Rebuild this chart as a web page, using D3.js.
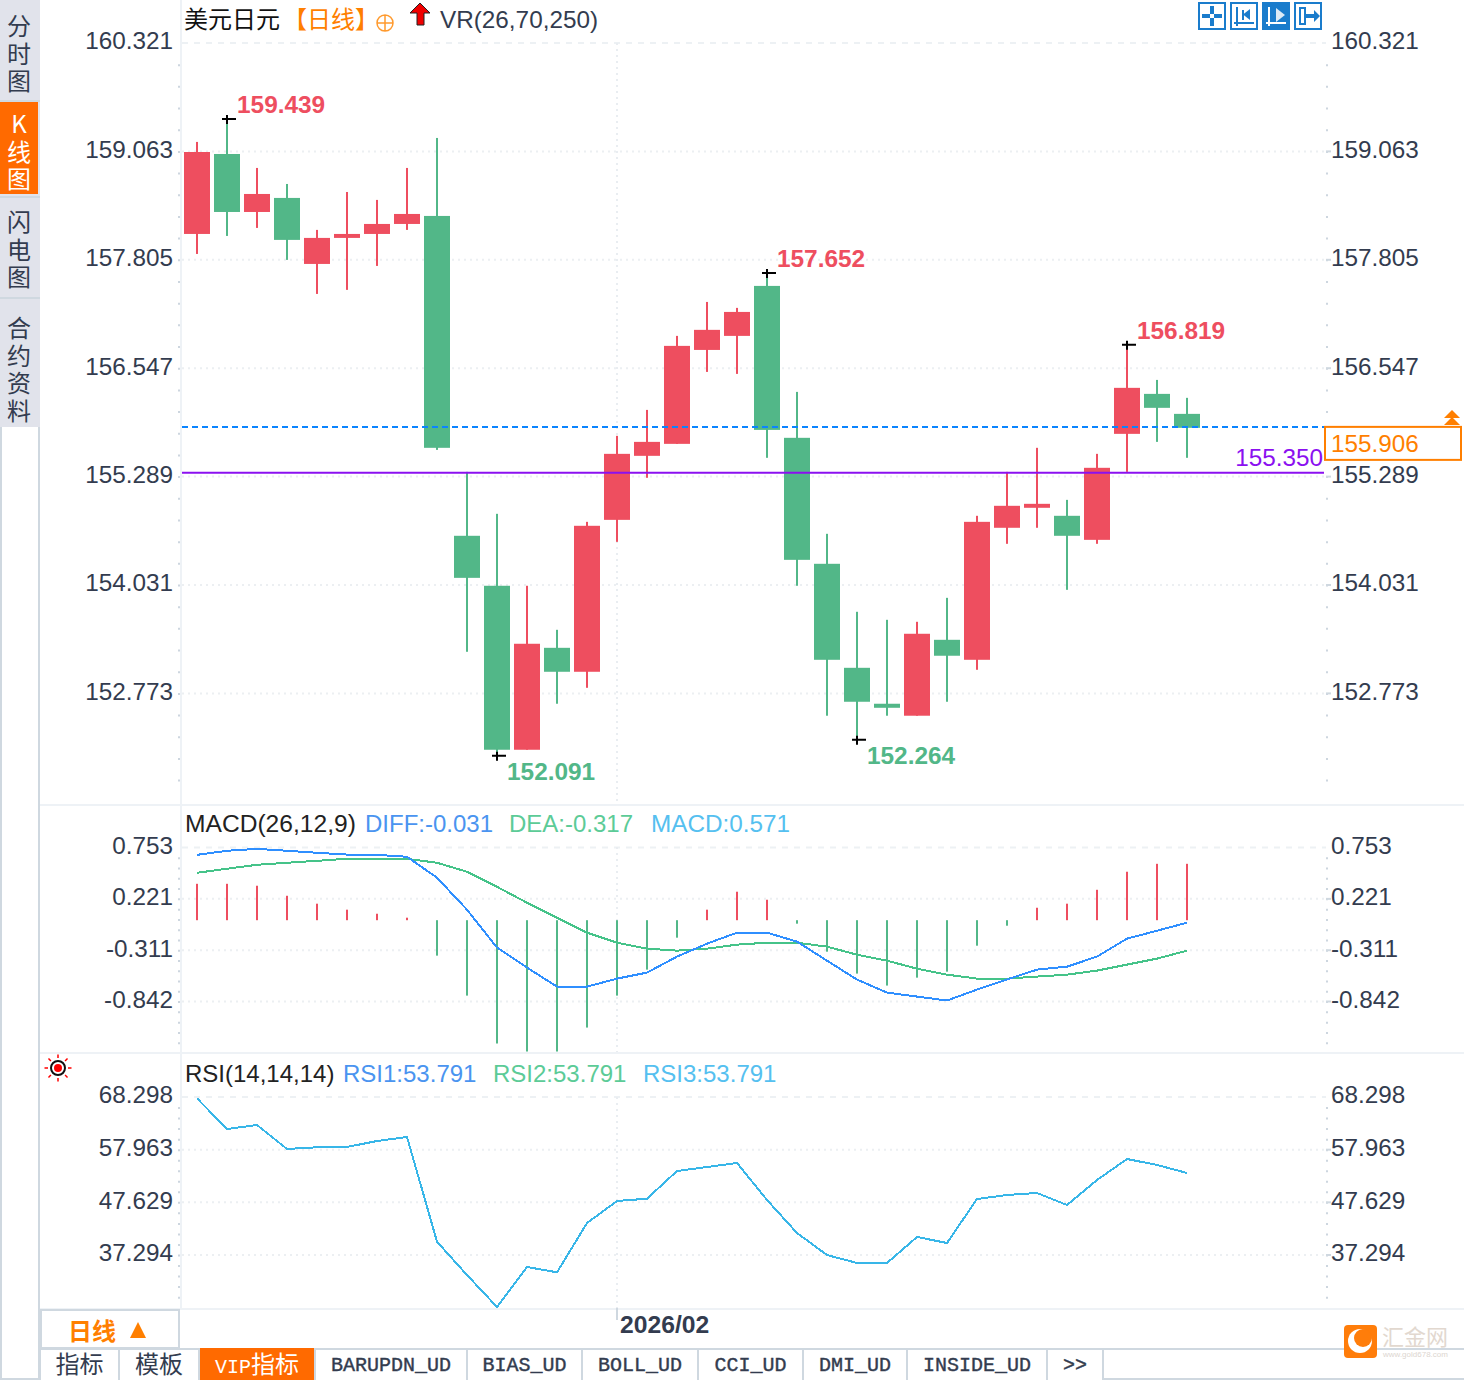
<!DOCTYPE html>
<html>
<head>
<meta charset="utf-8">
<script src="https://cdn.jsdelivr.net/npm/d3@7"></script>
<style>
  html, body { margin: 0; padding: 0; background: #fff; }
  svg { display: block; }
  text { font-family: 'Liberation Sans', Arial, sans-serif; }
  .cjk { font-family: 'Noto Sans CJK SC', sans-serif; }
  .mono { font-family: 'Liberation Mono', monospace; }
  .upright { writing-mode: vertical-rl; text-orientation: upright; letter-spacing: 3.5px; }
</style>
</head>
<body>
<svg></svg>
<script>
'use strict'

// daily candles
const opens = [158.105, 159.033, 158.36, 158.523, 157.757, 158.059, 158.105, 158.221, 158.314, 154.602, 154.022, 152.119, 153.302, 153.024, 154.787, 155.53, 155.669, 156.759, 156.922, 157.502, 155.739, 154.277, 153.07, 152.653, 152.514, 153.395, 153.163, 154.695, 154.927, 154.834, 154.555, 155.785, 156.249, 156.017]
const closes = [159.056, 158.36, 158.569, 158.036, 158.059, 158.105, 158.221, 158.337, 155.623, 154.114, 152.119, 153.349, 153.024, 154.718, 155.553, 155.692, 156.806, 156.992, 157.2, 155.831, 154.323, 153.163, 152.676, 152.606, 153.465, 153.21, 154.764, 154.95, 154.973, 154.602, 155.391, 156.319, 156.087, 155.855]
const highs = [159.173, 159.439, 158.871, 158.685, 158.152, 158.592, 158.5, 158.871, 159.219, 155.344, 154.857, 154.022, 153.511, 154.764, 155.762, 156.063, 156.922, 157.316, 157.247, 157.652, 156.272, 154.625, 153.72, 153.627, 153.604, 153.882, 154.834, 155.344, 155.623, 155.019, 155.553, 156.819, 156.411, 156.203]
const lows = [157.873, 158.082, 158.175, 157.804, 157.409, 157.456, 157.734, 158.152, 155.599, 153.256, 152.049, 152.119, 152.653, 152.838, 154.532, 155.275, 155.669, 156.504, 156.481, 155.507, 154.022, 152.514, 152.235, 152.514, 152.514, 152.676, 153.047, 154.509, 154.695, 153.975, 154.509, 155.344, 155.692, 155.507]

const diff = [0.677, 0.719, 0.739, 0.719, 0.698, 0.68, 0.677, 0.657, 0.44, 0.109, -0.284, -0.491, -0.688, -0.688, -0.605, -0.543, -0.377, -0.243, -0.129, -0.129, -0.222, -0.419, -0.615, -0.75, -0.791, -0.832, -0.719, -0.615, -0.512, -0.481, -0.377, -0.191, -0.109, -0.026]
const dea = [0.491, 0.533, 0.574, 0.595, 0.615, 0.636, 0.636, 0.636, 0.595, 0.502, 0.346, 0.181, 0.026, -0.129, -0.233, -0.295, -0.315, -0.295, -0.253, -0.233, -0.233, -0.274, -0.357, -0.419, -0.502, -0.564, -0.605, -0.605, -0.584, -0.564, -0.522, -0.46, -0.398, -0.315]
const macdBars = [0.377, 0.377, 0.357, 0.253, 0.171, 0.109, 0.067, 0.026, -0.367, -0.781, -1.277, -1.36, -1.36, -1.112, -0.781, -0.512, -0.181, 0.109, 0.295, 0.212, -0.036, -0.326, -0.553, -0.677, -0.595, -0.533, -0.264, -0.057, 0.129, 0.171, 0.315, 0.502, 0.584, 0.584]
const rsi = [68.04, 62.02, 62.8, 58.1, 58.43, 58.49, 59.66, 60.45, 39.91, 33.37, 27.09, 34.94, 33.9, 43.57, 47.89, 48.34, 53.78, 54.56, 55.35, 48.09, 41.61, 37.29, 35.73, 35.73, 40.83, 39.65, 48.28, 49.07, 49.46, 47.11, 52.01, 56.13, 54.96, 53.39]

const priceTicks = [160.321, 159.063, 157.805, 156.547, 155.289, 154.031, 152.773]
const macdTicks = [0.753, 0.221, -0.311, -0.842]
const rsiTicks = [68.298, 57.963, 47.629, 37.294]

const markIndex = [1, 10, 19, 22, 31]
const markLabels = ['159.439', '152.091', '157.652', '152.264', '156.819']

const lastLine = 155.866
const lastLabel = '155.906'
const levelLine = 155.335
const levelLabel = '155.350'

const monthIndex = 14
const monthLabel = '2026/02'

const sideTabs = ['分时图', 'K线图', '闪电图', '合约资料']
const bottomTabs = ['指标', '模板', 'VIP指标', 'BARUPDN_UD', 'BIAS_UD', 'BOLL_UD', 'CCI_UD', 'DMI_UD', 'INSIDE_UD', '>>']
const tabEdges = [40, 119, 199, 315, 467, 582, 698, 803, 907, 1047, 1103]

const red = '#ee4e5f'
const green = '#52b788'
const ink = '#333c4f'
const faint = '#eef2f6'
const edge = '#cfd8e0'
const orange = '#ff7f00'

const svg = d3.select('svg').attr('width', 1464).attr('height', 1380)

const days = d3.range(opens.length)
const x = d3.scaleBand().domain(days).range([182, 1202]).paddingInner(0.1333).paddingOuter(0.0667)
const cx = i => x(i) + x.bandwidth() / 2

const priceY = d3.scaleLinear().domain([160.321, 152.773]).range([43, 693.4])
const macdY = d3.scaleLinear().domain([0.753, -0.842]).range([847.5, 1001.5])
const rsiY = d3.scaleLinear().domain([68.298, 37.294]).range([1097, 1255])

function text(str, px, py, color, size, opts) {
  opts = opts || {}
  return svg
    .append('text')
    .attr('x', px)
    .attr('y', py)
    .attr('fill', color)
    .attr('font-size', size)
    .attr('text-anchor', opts.anchor || 'start')
    .attr('font-weight', opts.weight || 'normal')
    .attr('class', opts.cls || null)
    .text(str)
}

// left strip
svg.append('rect').attr('width', 40).attr('height', 427).attr('fill', '#e1e3eb')
svg.append('rect').attr('y', 102).attr('width', 38).attr('height', 92).attr('fill', '#ff6a00')
svg.append('rect').attr('y', 196).attr('width', 40).attr('height', 2).attr('fill', edge)
svg.append('rect').attr('y', 297).attr('width', 40).attr('height', 2).attr('fill', edge)
svg.append('rect').attr('y', 100).attr('width', 40).attr('height', 2).attr('fill', edge)
svg.append('rect').attr('y', 427).attr('width', 2).attr('height', 953).attr('fill', edge)
svg.append('rect').attr('x', 38).attr('y', 427).attr('width', 2).attr('height', 953).attr('fill', edge)
svg.append('rect').attr('y', 1378).attr('width', 40).attr('height', 2).attr('fill', edge)

const sideStarts = [14, 112, 210, 316]
sideTabs.forEach((label, t) => {
  text(label, 19, sideStarts[t], t === 1 ? '#fff' : ink, 24, { cls: 'cjk upright' })
})

// frame lines
svg.append('rect').attr('x', 180).attr('y', 0).attr('width', 2).attr('height', 1309).attr('fill', faint)
;[804, 1052, 1308].forEach(sy => {
  svg.append('rect').attr('x', 40).attr('y', sy).attr('width', 1424).attr('height', 2).attr('fill', faint)
})

// grid and value axes, one set per pane
function pane(scale, ticks, bottom) {
  const step = (ticks[0] - ticks[1]) / 5
  const count = Math.floor((scale.domain()[0] - scale.invert(bottom)) / step)
  const minor = d3.range(1, count + 1).map(k => ticks[0] - k * step)

  const grid = svg.append('g')
  ticks.forEach((t, k) => {
    grid
      .append('line')
      .attr('x1', 182)
      .attr('x2', 1326)
      .attr('y1', scale(t))
      .attr('y2', scale(t))
      .attr('stroke', k === 0 ? '#edf1f4' : '#eceff2')
      .attr('stroke-width', 2)
      .attr('stroke-dasharray', k === 0 ? '6 6' : '2 4')
  })

  ;[180, 1328].forEach(spot => {
    svg
      .append('g')
      .attr('transform', 'translate(' + spot + ',0)')
      .call(d3.axisLeft(scale).tickValues(minor).tickSize(2).tickFormat(''))
      .call(g => g.select('.domain').remove())
      .selectAll('line')
      .attr('stroke', '#cdd6df')
      .attr('stroke-width', 2)
  })

  const label = d => d.toFixed(3)

  svg
    .append('g')
    .attr('transform', 'translate(180,0)')
    .call(d3.axisLeft(scale).tickValues(ticks).tickSize(0).tickPadding(7).tickFormat(label))
    .call(g => g.select('.domain').remove())
    .selectAll('text')
    .attr('fill', ink)
    .attr('font-size', 24.3)
    .attr('dy', '0.24em')

  svg
    .append('g')
    .attr('transform', 'translate(1331,0)')
    .call(d3.axisRight(scale).tickValues(ticks).tickSize(0).tickPadding(0).tickFormat(label))
    .call(g => g.select('.domain').remove())
    .selectAll('text')
    .attr('fill', ink)
    .attr('font-size', 24.3)
    .attr('dy', '0.24em')

  svg
    .append('g')
    .selectAll('line')
    .data(ticks.slice(1))
    .join('line')
    .attr('x1', 1326)
    .attr('x2', 1331)
    .attr('y1', d => scale(d))
    .attr('y2', d => scale(d))
    .attr('stroke', edge)
    .attr('stroke-width', 2)
}

pane(priceY, priceTicks, 790)
pane(macdY, macdTicks, 1045)
pane(rsiY, rsiTicks, 1300)

// month divider
;[[43, 804], [847, 1052], [1097, 1308]].forEach(seg => {
  svg
    .append('line')
    .attr('x1', cx(monthIndex))
    .attr('x2', cx(monthIndex))
    .attr('y1', seg[0])
    .attr('y2', seg[1])
    .attr('stroke', '#e9edf1')
    .attr('stroke-width', 2)
    .attr('stroke-dasharray', '2 4')
})
svg
  .append('line')
  .attr('x1', cx(monthIndex))
  .attr('x2', cx(monthIndex))
  .attr('y1', 1308)
  .attr('y2', 1320)
  .attr('stroke', edge)
  .attr('stroke-width', 2)
text(monthLabel, cx(monthIndex) + 3, 1333, ink, 24.7, { weight: 'bold' })

// candles
const candleColor = i => (closes[i] >= opens[i] ? red : green)

svg
  .append('g')
  .selectAll('rect')
  .data(days)
  .join('rect')
  .attr('x', d => cx(d) - 1)
  .attr('width', 2)
  .attr('y', d => priceY(highs[d]))
  .attr('height', d => priceY(lows[d]) - priceY(highs[d]))
  .attr('fill', candleColor)

svg
  .append('g')
  .selectAll('rect')
  .data(days)
  .join('rect')
  .attr('x', d => x(d))
  .attr('width', x.bandwidth())
  .attr('y', d => priceY(Math.max(opens[d], closes[d])))
  .attr('height', d => priceY(Math.min(opens[d], closes[d])) - priceY(Math.max(opens[d], closes[d])))
  .attr('fill', candleColor)

// level lines
svg
  .append('line')
  .attr('x1', 182)
  .attr('x2', 1324)
  .attr('y1', priceY(lastLine))
  .attr('y2', priceY(lastLine))
  .attr('stroke', '#0a84ff')
  .attr('stroke-width', 2)
  .attr('stroke-dasharray', '6 4')
svg
  .append('line')
  .attr('x1', 182)
  .attr('x2', 1324)
  .attr('y1', priceY(levelLine))
  .attr('y2', priceY(levelLine))
  .attr('stroke', '#8b10f0')
  .attr('stroke-width', 2)
text(levelLabel, 1323, 466, '#8b10f0', 24.3, { anchor: 'end' })

svg
  .append('rect')
  .attr('x', 1325)
  .attr('y', priceY(lastLine))
  .attr('width', 136)
  .attr('height', 33)
  .attr('fill', '#fff')
  .attr('stroke', orange)
  .attr('stroke-width', 2)
text(lastLabel, 1331, 452, orange, 24.3)
svg.append('path').attr('d', 'M1452 410l8 8h-16zM1452 417l8 8h-16z').attr('fill', orange)

// high / low marks
markIndex.forEach((i, k) => {
  const isHigh = k === 0 || k === 2 || k === 4
  const my = isHigh ? priceY(highs[i]) : priceY(lows[i])
  svg
    .append('path')
    .attr('d', 'M' + (cx(i) - 5) + ' ' + my + 'h14M' + cx(i) + ' ' + (my - 4) + 'v9')
    .attr('stroke', '#000')
    .attr('stroke-width', 2)
    .attr('fill', 'none')
  text(markLabels[k], cx(i) + 10, isHigh ? my - 6 : my + 24, isHigh ? red : green, 24.4, { weight: 'bold' })
})

// header row
text('美元日元', 184, 28, '#111', 24, { cls: 'cjk' })
text('【日线】', 283, 28, orange, 24, { cls: 'cjk' })
svg
  .append('path')
  .attr('d', 'M377 23a8 8 0 1 0 16 0a8 8 0 1 0 -16 0M377 23h16M385 15v16')
  .attr('fill', 'none')
  .attr('stroke', '#ff9a2e')
  .attr('stroke-width', 1.5)
svg
  .append('path')
  .attr('d', 'M420 3l10 10h-6v12h-7v-12h-7z')
  .attr('fill', '#f00000')
  .attr('stroke', '#222')
  .attr('stroke-width', 1)
text('VR(26,70,250)', 440, 28, ink, 24.3)

const blueBtn = '#1a7ccc'
;[1198, 1230, 1262, 1294].forEach((bx, k) => {
  svg
    .append('rect')
    .attr('x', bx + 1)
    .attr('y', 3)
    .attr('width', 26)
    .attr('height', 26)
    .attr('fill', k === 2 ? blueBtn : '#fff')
    .attr('stroke', blueBtn)
    .attr('stroke-width', 2)
})
const btnStrokes = [
  '',
  'M1237 7v19M1234 23h20M1243 10v10',
  'M1269 7v19M1266 23h20',
  'M1300 8h5v16h-5z'
]
const btnFills = [
  'M1210 6h4v8h-4zM1210 18h4v8h-4zM1202 14h8v4h-8zM1214 14h8v4h-8z',
  'M1250 9v11l-7-5.500z',
  'M1276 8v14l9-7z',
  'M1305 14h9v4h-9zM1314 10l6 6-6 6z'
]
btnStrokes.forEach((d, k) => {
  const c = k === 2 ? '#fff' : blueBtn
  svg.append('path').attr('d', d).attr('fill', 'none').attr('stroke', c).attr('stroke-width', 2)
  svg.append('path').attr('d', btnFills[k]).attr('fill', k === 2 ? '#dceaf6' : c)
})

// macd pane
text('MACD(26,12,9)', 185, 832, '#222', 24.6)
text('DIFF:-0.031', 365, 832, '#4a94f0', 24)
text('DEA:-0.317', 509, 832, '#5ccb97', 24)
text('MACD:0.571', 651, 832, '#55c0f0', 24.3)

svg
  .append('g')
  .selectAll('rect')
  .data(macdBars)
  .join('rect')
  .attr('x', (d, i) => cx(i) - 1)
  .attr('width', 2)
  .attr('y', d => macdY(Math.max(d, 0)))
  .attr('height', d => Math.abs(macdY(d) - macdY(0)))
  .attr('fill', d => (d >= 0 ? red : green))

const lineOf = scale =>
  d3
    .line()
    .x((d, i) => cx(i))
    .y(d => scale(d))

function drawLine(values, scale, color) {
  svg
    .append('path')
    .attr('d', lineOf(scale)(values))
    .attr('fill', 'none')
    .attr('stroke', color)
    .attr('stroke-width', 2)
    .attr('shape-rendering', 'crispEdges')
}

drawLine(dea, macdY, '#45c389')
drawLine(diff, macdY, '#2f8fff')

// rsi pane
text('RSI(14,14,14)', 185, 1082, '#222', 24)
text('RSI1:53.791', 343, 1082, '#4a94f0', 24)
text('RSI2:53.791', 493, 1082, '#5ccb97', 24)
text('RSI3:53.791', 643, 1082, '#55c0f0', 24)
drawLine(rsi, rsiY, '#38b6e8')

// little sun
const sun = svg.append('g').attr('transform', 'translate(58,1068)')
sun.append('circle').attr('r', 7).attr('fill', '#fff').attr('stroke', '#111').attr('stroke-width', 2)
sun.append('circle').attr('r', 4).attr('fill', '#f00')
d3.range(8).forEach(k => {
  const a = (k * Math.PI) / 4
  sun
    .append('line')
    .attr('x1', 10 * Math.cos(a))
    .attr('y1', 10 * Math.sin(a))
    .attr('x2', 13.5 * Math.cos(a))
    .attr('y2', 13.5 * Math.sin(a))
    .attr('stroke', '#f00')
    .attr('stroke-width', 1.5)
})

// period box
svg
  .append('rect')
  .attr('x', 41)
  .attr('y', 1310)
  .attr('width', 138)
  .attr('height', 38)
  .attr('fill', '#fff')
  .attr('stroke', edge)
  .attr('stroke-width', 2)
text('日线', 68, 1340, orange, 24, { cls: 'cjk', weight: 'bold' })
svg.append('path').attr('d', 'M138 1322l8 16h-16z').attr('fill', orange)

// tab bar
svg.append('line').attr('x1', 40).attr('x2', 1464).attr('y1', 1349).attr('y2', 1349).attr('stroke', edge).attr('stroke-width', 2)
svg.append('line').attr('x1', 1103).attr('x2', 1464).attr('y1', 1379).attr('y2', 1379).attr('stroke', edge).attr('stroke-width', 2)
tabEdges.forEach(ex => {
  svg.append('line').attr('x1', ex).attr('x2', ex).attr('y1', 1349).attr('y2', 1380).attr('stroke', edge).attr('stroke-width', 2)
})
svg.append('rect').attr('x', 200).attr('y', 1348).attr('width', 114).attr('height', 32).attr('fill', '#ff6a00')

bottomTabs.forEach((t, k) => {
  const mid = (tabEdges[k] + tabEdges[k + 1]) / 2
  const color = k === 2 ? '#fff' : ink
  if (k < 2) {
    text(t, mid, 1373, color, 24, { anchor: 'middle', cls: 'cjk' })
  } else if (k === 2) {
    // latin part is narrower than the cjk part
    const vip = text('', 215, 1373, color, 24, { cls: 'cjk' })
    vip.append('tspan').attr('class', 'mono').attr('font-size', 20).text(t.slice(0, 3))
    vip.append('tspan').text(t.slice(3))
  } else {
    text(t, mid, 1371, color, 20, { anchor: 'middle', cls: 'mono' }).attr('stroke', ink).attr('stroke-width', 0.4)
  }
})

// logo
svg.append('rect').attr('x', 1344).attr('y', 1325).attr('width', 33).attr('height', 33).attr('rx', 4).attr('fill', '#ff7d0a')
svg.append('circle').attr('cx', 1360).attr('cy', 1341).attr('r', 12).attr('fill', '#fff')
svg.append('circle').attr('cx', 1363).attr('cy', 1338).attr('r', 9).attr('fill', '#ff7d0a')
text('汇金网', 1382, 1345, '#e2d8cf', 22, { cls: 'cjk' })
text('www.gold678.com', 1383, 1357, '#ddd6d0', 8)
</script>
</body>
</html>
